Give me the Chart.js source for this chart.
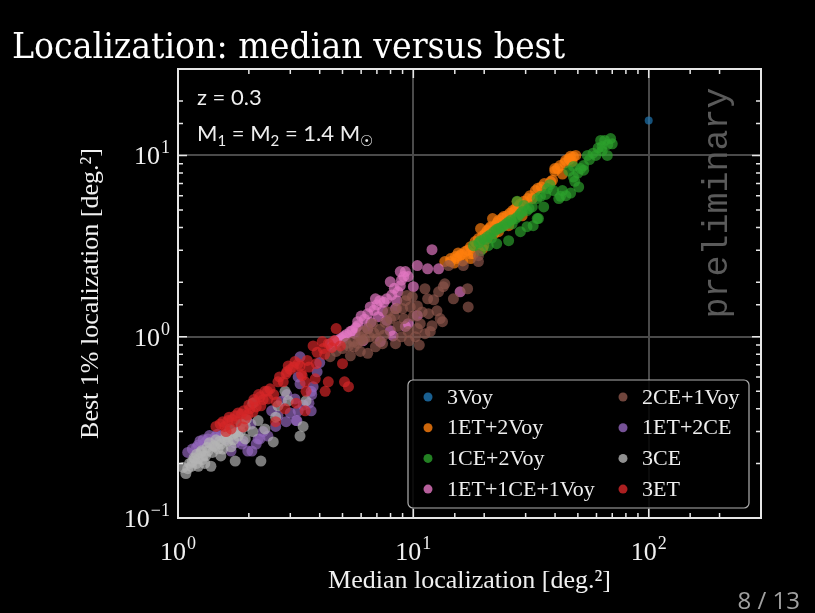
<!DOCTYPE html>
<html>
<head>
<meta charset="utf-8">
<script src="https://cdn.jsdelivr.net/npm/chart.js@4.4.1/dist/chart.umd.min.js"></script>
<style>
  html, body { margin: 0; padding: 0; background: #000; }
  #wrap { width: 815px; height: 613px; }
</style>
</head>
<body>
<div id="wrap"><canvas id="locChart" width="815" height="613"></canvas></div>
<script>
// noms des réseaux (ordre de la légende, colonne par colonne)
const seriesNames = ['3Voy', '1ET+2Voy', '1CE+2Voy', '1ET+1CE+1Voy', '2CE+1Voy', '1ET+2CE', '3CE', '3ET'];
const seriesColors = ['#1f77b4', '#ff7f0e', '#2ca02c', '#e377c2', '#8c564b', '#9467bd', '#b4b4b4', '#d62728'];

// exposants des décades étiquetées
const xTickExponents = { '1': '0', '10': '1', '100': '2' };
const yTickExponents = { '0.1': '−1', '1': '0', '10': '1' };

// [médiane, meilleur 1%] en deg²
const voy3 = [[100, 15.6]];

const et1voy2 = [
  [13.6, 2.6], [14.4, 2.7], [15.1, 2.77], [15.8, 2.8], [16.6, 2.95], [17.5, 3.14], [18.3, 3.35],
  [18.9, 3.48], [19.7, 3.6], [20.6, 3.85], [21.3, 4.05], [22.3, 4.1], [23.0, 4.38], [24.2, 4.6],
  [25.0, 4.65], [26.4, 4.97], [27.2, 5.1], [28.5, 5.4], [29.5, 5.6], [30.7, 5.79], [33.0, 6.4],
  [29.0, 4.65], [25.4, 4.1], [23.0, 3.8], [19.9, 3.18], [18.0, 2.87], [19.3, 3.95], [21.7, 4.49],
  [27.6, 5.55], [32.0, 5.79], [39.0, 7.3], [39.9, 8.2], [41.0, 8.47], [39.9, 8.47], [44.4, 9.4],
  [45.8, 9.6], [47.9, 9.85], [47.2, 9.25], [49.0, 10.0], [43.0, 7.9], [38.3, 7.18], [17.5, 2.7],
  [20.6, 3.48], [24.2, 4.1], [14.4, 2.6], [15.3, 2.7], [17.5, 2.87], [19.7, 3.06], [16.2, 2.62],
  [22.0, 3.7], [26.0, 4.4], [35.0, 6.7], [46.5, 9.9], [16.0, 2.85], [17.0, 3.0], [18.6, 3.25],
  [20.2, 3.7], [21.0, 3.95], [22.7, 4.25], [23.8, 4.5], [25.7, 4.8], [26.8, 4.9], [28.0, 5.25],
  [31.3, 6.0], [33.8, 6.6], [36.0, 7.0], [42.0, 8.8], [44.0, 9.1], [46.0, 9.5], [15.5, 2.9], [14.9, 2.55]
];

const ce1voy2 = [
  [18.0, 3.18], [19.3, 3.39], [20.6, 3.56], [22.0, 3.8], [23.0, 3.95], [24.2, 4.1], [25.4, 4.3],
  [27.2, 4.49], [28.5, 4.77], [30.4, 4.97], [32.0, 5.2], [33.6, 5.79], [34.7, 5.95], [35.8, 5.2],
  [33.6, 4.49], [30.4, 4.05], [28.5, 3.8], [25.4, 3.39], [22.6, 3.26], [20.8, 3.18], [37.1, 6.57],
  [39.4, 6.4], [42.2, 5.95], [43.0, 6.4], [46.6, 6.2], [50.4, 6.7], [47.9, 7.6], [45.8, 8.2],
  [51.4, 8.47], [52.9, 8.8], [52.9, 8.3], [47.9, 8.7], [54.9, 10.0], [59.6, 10.0], [63.4, 10.6],
  [66.7, 10.0], [63.4, 11.2], [65.0, 12.1], [68.9, 12.4], [70.0, 11.6], [62.5, 12.1], [41.5, 5.79],
  [32.3, 4.1], [19.3, 2.98], [27.6, 5.6], [29.5, 5.3], [34.0, 4.49], [21.5, 3.5], [26.3, 4.2],
  [19.0, 3.3], [20.0, 3.45], [21.2, 3.65], [22.5, 3.9], [23.6, 4.0], [24.8, 4.2], [26.0, 4.4],
  [27.8, 4.6], [29.0, 4.9], [31.0, 5.1], [36.5, 6.1], [38.0, 6.9], [44.5, 6.0], [48.5, 7.2],
  [50.0, 8.0], [56.0, 9.5], [58.0, 10.3], [61.0, 11.0], [67.0, 11.5]
];

const et1ce1voy1 = [
  [4.43, 0.915], [4.65, 0.95], [4.89, 0.975], [5.1, 1.01], [5.4, 1.07], [4.5, 0.88], [5.8, 1.15],
  [5.8, 1.21], [6.4, 1.11], [6.56, 1.46], [6.9, 1.62], [7.2, 1.58], [7.7, 1.62], [7.4, 1.39],
  [7.7, 1.23], [8.2, 1.01], [7.98, 1.08], [7.1, 1.29], [6.4, 1.34], [8.4, 1.43], [8.6, 1.77],
  [8.8, 1.91], [9.1, 2.15], [8.8, 2.29], [9.25, 2.29], [9.5, 2.15], [7.98, 2.01], [8.5, 1.58],
  [10.0, 1.89], [10.4, 1.31], [9.25, 1.14], [9.5, 1.18], [10.4, 2.47], [11.5, 2.37], [12.8, 2.37],
  [12.0, 3.02], [15.8, 1.77], [5.65, 1.04], [6.1, 0.95], [7.24, 0.94], [4.7, 0.93], [5.0, 0.96],
  [4.6, 0.9], [4.8, 0.95], [5.0, 0.99], [5.2, 1.03], [5.5, 1.08], [5.7, 1.12], [6.2, 1.25],
  [6.8, 1.4], [7.0, 1.5], [7.5, 1.55], [8.1, 1.7], [8.3, 1.85], [8.9, 2.05], [6.0, 1.3], [6.6, 1.2]
];

const ce2voy1 = [
  [4.7, 0.83], [5.0, 0.86], [5.3, 0.89], [5.55, 0.94], [5.95, 1.0], [6.1, 1.07], [6.4, 1.11],
  [6.7, 1.18], [5.4, 0.785], [5.95, 0.83], [6.9, 0.88], [7.4, 0.915], [8.4, 0.915], [7.0, 0.975],
  [8.6, 1.14], [9.1, 1.26], [9.0, 1.43], [9.25, 1.58], [9.9, 1.66], [9.4, 1.69], [10.4, 1.48],
  [9.7, 1.46], [10.9, 1.37], [11.2, 1.84], [11.5, 1.62], [11.6, 1.34], [12.6, 1.39], [13.0, 1.26],
  [13.3, 1.21], [12.8, 1.77], [13.4, 1.89], [13.6, 1.96], [14.8, 1.62], [17.0, 1.84], [17.1, 1.46],
  [10.4, 1.11], [11.2, 1.04], [10.2, 1.0], [11.8, 1.07], [9.5, 1.07], [10.7, 1.18], [8.5, 1.43],
  [7.8, 1.37], [14.1, 2.47], [16.3, 2.47], [18.9, 2.6], [18.9, 2.8], [6.4, 0.81], [4.43, 0.776],
  [5.2, 0.92], [6.2, 0.97], [5.6, 0.88], [5.8, 0.92], [6.0, 0.95], [6.5, 1.0], [6.8, 1.05],
  [7.2, 1.1], [7.6, 1.2], [8.0, 1.25], [8.3, 1.3], [7.5, 1.02], [8.9, 1.0], [9.6, 0.95],
  [10.6, 0.9], [12.0, 1.15], [12.2, 1.6], [10.0, 1.3]
];

const et1ce2 = [
  [1.22, 0.253], [1.34, 0.273], [1.44, 0.28], [1.52, 0.283], [1.98, 0.234], [2.15, 0.256],
  [2.23, 0.273], [2.41, 0.283], [1.89, 0.266], [1.68, 0.234], [3.18, 0.345], [2.88, 0.34],
  [2.66, 0.366], [3.68, 0.39], [3.24, 0.39], [3.3, 0.55], [3.68, 0.5], [3.75, 0.53], [3.6, 0.43],
  [3.14, 0.454], [2.75, 0.44], [1.8, 0.3], [2.04, 0.33], [3.3, 0.775], [3.24, 0.6], [3.9, 0.64],
  [1.3, 0.26], [1.6, 0.27], [1.15, 0.24], [2.5, 0.39], [2.9, 0.48], [1.24, 0.266], [1.39, 0.256],
  [1.87, 0.256], [2.06, 0.234], [2.19, 0.273], [3.2, 0.345], [3.7, 0.48], [4.0, 0.72],
  [1.1, 0.23], [1.2, 0.245], [1.28, 0.27], [1.36, 0.285], [1.47, 0.29], [1.75, 0.26], [2.3, 0.3],
  [2.6, 0.32], [3.0, 0.38], [3.4, 0.42]
];

const ce3 = [
  [1.08, 0.176], [1.10, 0.187], [1.14, 0.193], [1.18, 0.212], [1.22, 0.212], [1.22, 0.193],
  [1.25, 0.23], [1.28, 0.22], [1.30, 0.2], [1.34, 0.234], [1.38, 0.193], [1.44, 0.247],
  [1.48, 0.241], [1.52, 0.256], [1.52, 0.22], [1.58, 0.273], [1.63, 0.266], [1.68, 0.247],
  [1.71, 0.29], [1.75, 0.206], [1.8, 0.283], [1.84, 0.3], [1.93, 0.32], [1.93, 0.273], [2.08, 0.3],
  [2.19, 0.345], [2.25, 0.206], [2.34, 0.31], [2.54, 0.263], [2.6, 0.36], [2.66, 0.416], [2.85, 0.5],
  [2.94, 0.443], [3.3, 0.283], [3.4, 0.32], [3.5, 0.443], [2.08, 0.43], [1.15, 0.205], [1.2, 0.225],
  [1.27, 0.21], [1.33, 0.245], [1.4, 0.23], [1.36, 0.26], [1.45, 0.27], [1.55, 0.24], [1.6, 0.29],
  [1.66, 0.31], [1.72, 0.27], [1.12, 0.2], [1.05, 0.19], [1.85, 0.33], [1.95, 0.35], [1.2, 0.2],
  [1.17, 0.215], [1.26, 0.235], [1.31, 0.22], [1.42, 0.25], [1.5, 0.265], [1.62, 0.28], [1.76, 0.295]
];

const et3 = [
  [1.51, 0.33], [1.58, 0.32], [1.63, 0.345], [1.75, 0.366], [1.86, 0.375], [1.93, 0.352], [2.02, 0.4],
  [2.12, 0.437], [2.23, 0.466], [2.34, 0.5], [2.46, 0.516], [2.25, 0.416], [2.41, 0.454], [2.08, 0.385],
  [1.77, 0.34], [1.68, 0.31], [1.89, 0.318], [2.6, 0.34], [2.62, 0.437], [2.66, 0.564], [2.88, 0.624],
  [2.94, 0.69], [3.09, 0.68], [3.24, 0.71], [3.34, 0.624], [3.47, 0.564], [3.5, 0.5], [3.83, 0.586],
  [3.87, 0.71], [4.22, 0.5], [4.35, 0.564], [5.1, 0.564], [5.3, 0.53], [5.0, 0.71], [3.47, 0.39],
  [3.18, 0.43], [2.85, 0.4], [4.7, 1.11], [4.35, 0.915], [3.75, 0.89], [4.1, 0.94], [3.37, 0.61],
  [3.14, 0.73], [2.9, 0.64], [2.8, 0.564], [3.3, 0.69], [3.54, 0.74], [4.14, 0.86], [4.9, 0.89],
  [4.6, 0.95], [1.7, 0.35], [1.98, 0.37], [2.15, 0.41], [1.55, 0.34], [1.65, 0.36], [1.8, 0.38],
  [1.9, 0.39], [2.0, 0.42], [2.1, 0.45], [2.2, 0.48], [2.3, 0.45], [2.4, 0.5], [2.55, 0.48],
  [2.7, 0.6], [3.0, 0.66], [3.6, 0.68], [3.9, 0.82], [4.2, 0.8], [4.5, 0.87], [1.45, 0.32], [1.6, 0.3]
];

const seriesData = [voy3, et1voy2, ce1voy2, et1ce1voy1, ce2voy1, et1ce2, ce3, et3];

function isDecade(v) {
  const l = Math.log10(v);
  return Math.abs(l - Math.round(l)) < 1e-6;
}

function withAlpha(hex, a) {
  const n = parseInt(hex.slice(1), 16);
  return 'rgba(' + (n >> 16) + ',' + ((n >> 8) & 255) + ',' + (n & 255) + ',' + a + ')';
}

// "10" + exposant, ancré à droite ou centré
function drawPower(ctx, exp, x, y, align) {
  ctx.font = '26px "Liberation Serif"';
  const wb = ctx.measureText('10').width;
  ctx.font = '18px "Liberation Serif"';
  const we = ctx.measureText(exp).width;
  const w = wb + 1 + we;
  const x0 = align === 'right' ? x - w : x - w / 2;
  ctx.font = '26px "Liberation Serif"';
  ctx.fillText('10', x0, y);
  ctx.font = '18px "Liberation Serif"';
  ctx.fillText(exp, x0 + wb + 1, y - 11);
}

// décor : cadre, graduations internes, étiquettes, légende, textes
const decor = {
  id: 'decor',
  beforeDatasetsDraw(chart) {
    const ctx = chart.ctx;
    ctx.save();
    ctx.translate(727, 203);
    ctx.rotate(-Math.PI / 2);
    ctx.font = '35px "Liberation Mono"';
    ctx.fillStyle = '#5a5a5a';
    ctx.textAlign = 'center';
    ctx.textBaseline = 'alphabetic';
    ctx.fillText('preliminary', 0, 0);
    ctx.restore();
  },
  afterDatasetsDraw(chart) {
    const ctx = chart.ctx;
    const a = chart.chartArea;
    const xs = chart.scales.x, ys = chart.scales.y;
    ctx.save();
    ctx.strokeStyle = '#e6e6e6';
    ctx.lineWidth = 1.5;
    ctx.beginPath();
    xs.ticks.forEach(t => {
      const p = xs.getPixelForValue(t.value);
      const L = isDecade(t.value) ? 9 : 5;
      ctx.moveTo(p, a.bottom); ctx.lineTo(p, a.bottom - L);
      ctx.moveTo(p, a.top); ctx.lineTo(p, a.top + L);
    });
    ys.ticks.forEach(t => {
      const p = ys.getPixelForValue(t.value);
      const L = isDecade(t.value) ? 9 : 5;
      ctx.moveTo(a.left, p); ctx.lineTo(a.left + L, p);
      ctx.moveTo(a.right, p); ctx.lineTo(a.right - L, p);
    });
    ctx.stroke();
    ctx.lineWidth = 2;
    ctx.strokeRect(a.left, a.top, a.right - a.left, a.bottom - a.top);

    // étiquettes des décades
    ctx.fillStyle = '#f0f0f0';
    ctx.textAlign = 'left';
    ctx.textBaseline = 'alphabetic';
    xs.ticks.forEach(t => {
      const e = xTickExponents[String(t.value)];
      if (e) drawPower(ctx, e, xs.getPixelForValue(t.value), a.bottom + 42, 'center');
    });
    ys.ticks.forEach(t => {
      const e = yTickExponents[String(t.value)];
      if (e) drawPower(ctx, e, a.left - 8, ys.getPixelForValue(t.value) + 9, 'right');
    });

    // légende
    const lx = a.left + 230, ly = a.top + 311, lw = 341, lh = 128;
    ctx.beginPath();
    ctx.roundRect(lx, ly, lw, lh, 5);
    ctx.fillStyle = 'rgba(0,0,0,0.85)';
    ctx.fill();
    ctx.strokeStyle = '#b0b0b0';
    ctx.lineWidth = 1.2;
    ctx.stroke();
    ctx.font = '22px "Liberation Serif"';
    ctx.textBaseline = 'middle';
    ctx.textAlign = 'left';
    chart.data.datasets.forEach((ds, i) => {
      const col = Math.floor(i / 4), row = i % 4;
      const mx = lx + 20 + col * 195;
      const my = ly + 17 + row * 30.7;
      ctx.beginPath();
      ctx.arc(mx, my, 4.5, 0, Math.PI * 2);
      ctx.fillStyle = withAlpha(seriesColors[i], 0.8);
      ctx.fill();
      ctx.fillStyle = '#eeeeee';
      ctx.fillText(ds.label, mx + 19, my + 1);
    });
    ctx.restore();
  },
  afterDraw(chart) {
    const ctx = chart.ctx;
    ctx.save();
    ctx.fillStyle = '#ffffff';
    ctx.textBaseline = 'alphabetic';
    ctx.textAlign = 'left';
    ctx.font = '35px "DejaVu Serif"';
    ctx.fillText('Localization: median versus best', 12, 58, 553);

    ctx.fillStyle = '#eeeeee';
    ctx.font = '22px Lato';
    ctx.fillText('z = 0.3', 197, 105);
    let x = 197;
    const put = (txt, font, dy) => {
      ctx.font = font;
      ctx.fillText(txt, x, 141 + dy);
      x += ctx.measureText(txt).width;
    };
    put('M', '22px Lato', 0);
    put('1', '15px Lato', 5);
    put(' = M', '22px Lato', 0);
    put('2', '15px Lato', 5);
    put(' = 1.4 M', '22px Lato', 0);
    put('☉', '15px "DejaVu Sans"', 5);

    ctx.fillStyle = '#a0a0a0';
    ctx.font = '24px "Open Sans"';
    ctx.textAlign = 'right';
    ctx.fillText('8 / 13', 800, 609);
    ctx.restore();
  }
};

const datasets = seriesNames.map((name, i) => ({
  label: name,
  data: seriesData[i].map(p => ({ x: p[0], y: p[1] })),
  backgroundColor: withAlpha(seriesColors[i], 0.68),
  borderWidth: 0,
  pointRadius: i === 0 ? 4 : 5.5,
  pointHoverRadius: i === 0 ? 4 : 5.5,
  order: 10 - i
}));

const axisFont = { family: '"Liberation Serif"', size: 26 };

new Chart(document.getElementById('locChart'), {
  type: 'scatter',
  data: { datasets: datasets },
  options: {
    responsive: false,
    animation: false,
    layout: { padding: { left: 60, right: 54, top: 69, bottom: 10 } },
    plugins: { legend: { display: false }, tooltip: { enabled: false } },
    scales: {
      x: {
        type: 'logarithmic',
        min: 1,
        max: 300,
        afterFit: s => { s.height = 85; },
        border: { display: false },
        grid: {
          drawTicks: false,
          lineWidth: 2,
          color: c => (c.tick && isDecade(c.tick.value)) ? '#4a4a4a' : 'rgba(0,0,0,0)'
        },
        ticks: { display: false, autoSkip: false },
        title: {
          display: true,
          text: 'Median localization [deg.²]',
          color: '#f0f0f0',
          font: axisFont,
          padding: { top: 4, bottom: 6 }
        }
      },
      y: {
        type: 'logarithmic',
        min: 0.1,
        max: 30,
        afterFit: s => { s.width = 118; },
        border: { display: false },
        grid: {
          drawTicks: false,
          lineWidth: 2,
          color: c => (c.tick && isDecade(c.tick.value)) ? '#4a4a4a' : 'rgba(0,0,0,0)'
        },
        ticks: { display: false, autoSkip: false },
        title: {
          display: true,
          text: 'Best 1% localization [deg.²]',
          color: '#f0f0f0',
          font: axisFont,
          padding: { top: 16, bottom: 0 }
        }
      }
    }
  },
  plugins: [decor]
});
</script>
</body>
</html>
